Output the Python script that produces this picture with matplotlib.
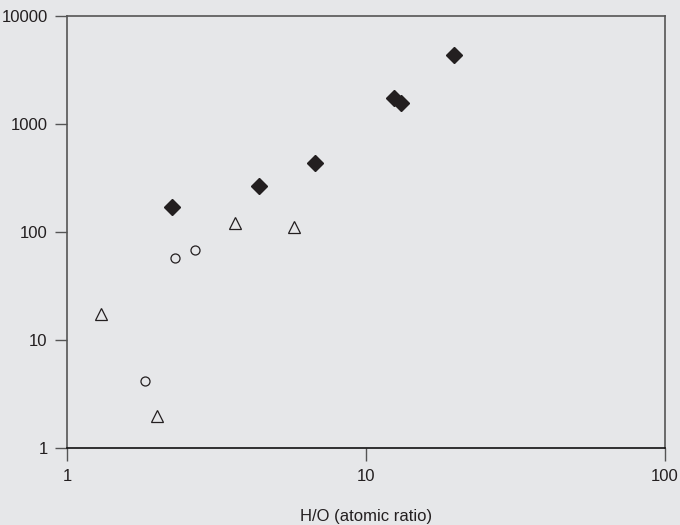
import matplotlib.pyplot as plt
from matplotlib.ticker import FixedLocator, NullLocator, FixedFormatter

plt.rcParams['font.family'] = ['Liberation Sans', 'DejaVu Sans']

# filled diamonds
diamond_x = [2.24, 4.39, 6.75, 12.4, 13.1, 19.7]
diamond_y = [170, 267, 435, 1740, 1570, 4350]

# open circles
circle_x = [1.82, 2.30, 2.68]
circle_y = [4.2, 57, 68]

# open triangles
tri_x = [1.30, 2.00, 3.65, 5.74]
tri_y = [17.4, 1.98, 120, 112]

x_ticks = [1, 10, 100]
y_ticks = [1, 10, 100, 1000, 10000]

bg = '#e6e7e9'
fig = plt.figure(figsize=(6.8, 5.25), dpi=100, facecolor=bg)
ax = fig.add_axes([67/680, 1 - 448/525, (665-67)/680, (448-16)/525])
ax.set_facecolor(bg)

ax.plot(diamond_x, diamond_y, 'D', ms=8, color='#231f20', mec='#231f20', ls='none')
ax.plot(circle_x, circle_y, 'o', ms=6.5, mfc='none', mec='#231f20', mew=0.9, ls='none')
ax.plot(tri_x, tri_y, '^', ms=8, mfc='none', mec='#231f20', mew=0.9, ls='none')

ax.set_xscale('log')
ax.set_yscale('log')
ax.set_xlim(1, 100)
ax.set_ylim(1, 10000)
ax.xaxis.set_major_locator(FixedLocator(x_ticks))
ax.xaxis.set_major_formatter(FixedFormatter([str(v) for v in x_ticks]))
ax.yaxis.set_major_locator(FixedLocator(y_ticks))
ax.yaxis.set_major_formatter(FixedFormatter([str(v) for v in y_ticks]))
ax.xaxis.set_minor_locator(NullLocator())
ax.yaxis.set_minor_locator(NullLocator())

for side in ['left', 'top', 'right']:
    ax.spines[side].set_color('#555555')
    ax.spines[side].set_linewidth(1.2)
ax.spines['bottom'].set_color('#111111')
ax.spines['bottom'].set_linewidth(1.2)

ax.tick_params(axis='both', direction='out', length=9, width=1.0, color='#555555',
               labelsize=12, labelcolor='#231f20')
ax.tick_params(axis='x', pad=6)
ax.tick_params(axis='y', pad=5)

ax.set_xlabel('H/O (atomic ratio)', fontsize=12, color='#231f20', labelpad=18)

fig.savefig('out.png', dpi=100, facecolor=bg)
